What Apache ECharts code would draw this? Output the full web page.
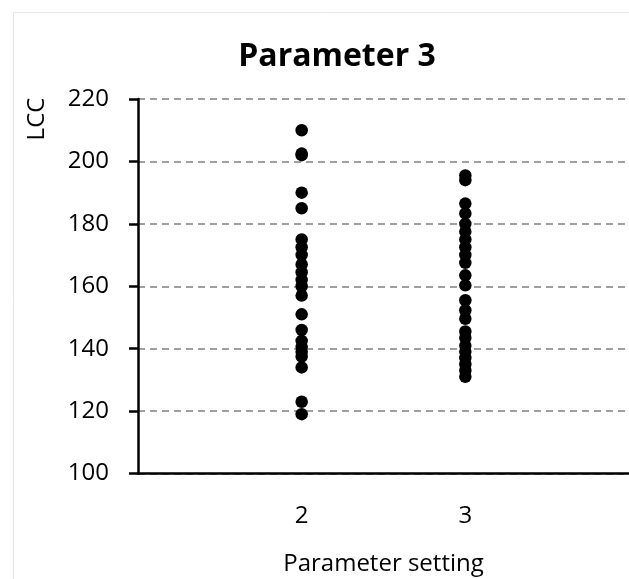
<!DOCTYPE html>
<html><head><meta charset="utf-8">
<script src="https://cdn.jsdelivr.net/npm/echarts@6/dist/echarts.min.js"></script>
<style>html,body{margin:0;padding:0;background:#fff}#c{width:629px;height:579px}</style>
</head><body><div id="c"></div>
<script>
const title = 'Parameter 3';
const xName = 'Parameter setting';
const yName = 'LCC';
const settings = [2, 3];
const setting2Values = [210, 202.5, 202, 190, 185, 175, 172.5, 170, 167, 164.5, 162, 160, 157, 151, 146, 142.5, 140.5, 139, 137.5, 134, 123, 119];
const setting3Values = [195.5, 194, 186.5, 183.3, 180, 177.5, 175, 172.5, 170, 167.5, 163.5, 160.3, 155.5, 152.3, 149.6, 145.5, 143.5, 141, 139, 137, 135, 133, 131];
const yTicks = [100, 120, 140, 160, 180, 200, 220];

const data = [];
setting2Values.forEach(v => data.push([settings[0], v]));
setting3Values.forEach(v => data.push([settings[1], v]));

const FONT = '"Open Sans"';
const chart = echarts.init(document.getElementById('c'), null, {renderer: 'canvas'});
chart.setOption({
  animation: false,
  textStyle: {fontFamily: FONT},
  title: {text: title, left: 332, top: 36, textAlign: 'center',
    textStyle: {fontFamily: FONT, fontSize: 32, fontWeight: 'bold', color: '#000'}},
  graphic: [
    {type: 'rect', shape: {x: 13.5, y: 12.5, width: 700, height: 700}, style: {fill: 'none', stroke: '#e6e6e6', lineWidth: 1}, silent: true},
    {type: 'text', x: 37, y: 119, rotation: Math.PI / 2,
      style: {text: yName, font: '24px ' + FONT, fill: '#000', textAlign: 'center', textVerticalAlign: 'middle'}}
  ],
  grid: {left: 138, right: 0, top: 99, bottom: 105.5, outerBoundsMode: 'none', containLabel: false},
  xAxis: {
    type: 'value', min: 1, max: 4, interval: 1,
    name: xName, nameLocation: 'middle', nameGap: 79,
    nameTextStyle: {fontFamily: FONT, fontSize: 24, color: '#000'},
    axisLine: {show: true, onZero: false, lineStyle: {color: '#000', width: 2.5}},
    axisTick: {show: false},
    splitLine: {show: false},
    axisLabel: {margin: 31, fontSize: 24, color: '#000', fontFamily: FONT,
      formatter: v => settings.includes(v) ? String(v) : ''}
  },
  yAxis: {
    type: 'value', min: yTicks[0], max: yTicks[yTicks.length - 1], interval: 20,
    axisLine: {show: true, lineStyle: {color: '#000', width: 2.5}},
    axisTick: {show: true, length: 9, lineStyle: {color: '#000', width: 2.5}},
    splitLine: {show: true, lineStyle: {color: '#808080', width: 1.5, type: [7, 5]}},
    axisLabel: {margin: 29, fontSize: 24, color: '#000', fontFamily: FONT}
  },
  series: [{
    type: 'scatter', data: data, symbol: 'circle', symbolSize: 12.5,
    itemStyle: {color: '#000', opacity: 1}
  }]
});
</script></body></html>
